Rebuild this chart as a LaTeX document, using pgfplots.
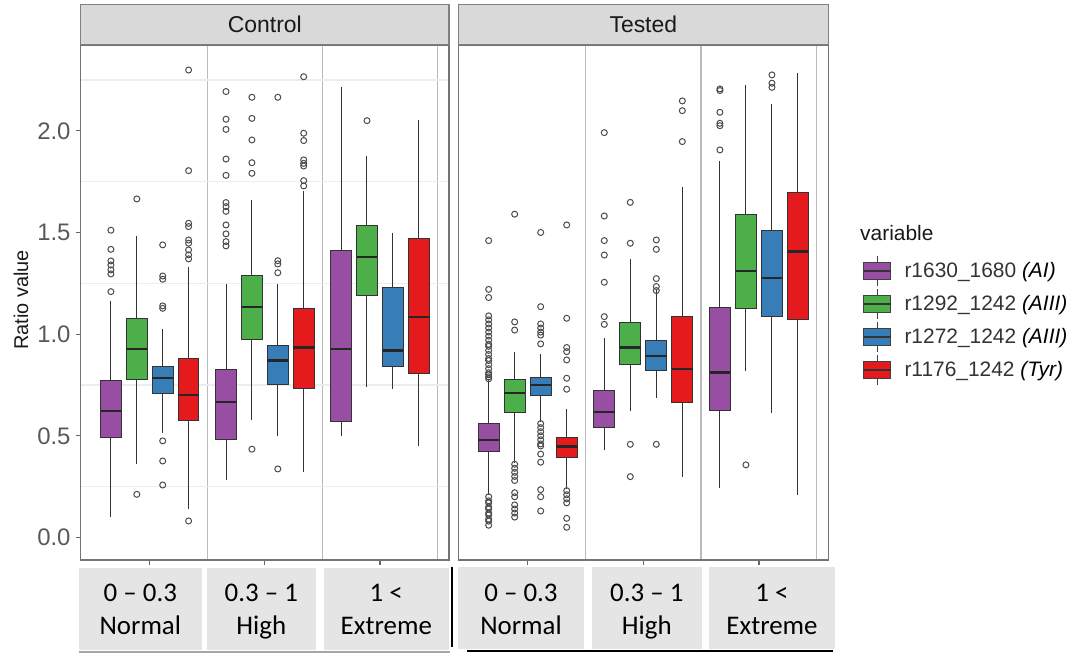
\documentclass[border=0pt]{standalone}
\usepackage{pgfplots}
\pgfplotsset{compat=1.18}
\usepgfplotslibrary{statistics}
\usepackage{fontspec}
\setmainfont{Liberation Sans}
\newfontfamily\carlito{Carlito}

\definecolor{cP}{HTML}{984EA3}
\definecolor{cG}{HTML}{4DAF4A}
\definecolor{cB}{HTML}{377EB8}
\definecolor{cR}{HTML}{E41A1C}
\definecolor{stripfill}{HTML}{D9D9D9}
\definecolor{labfill}{HTML}{E5E5E5}

\pgfplotsset{
  panel/.style={
    scale only axis, height=515bp,
    xmin=0.4, xmax=3.6, ymin=-0.111, ymax=2.422,
    clip=false,
    axis line style={draw=black!55, line width=1.3bp},
    xtick={1,2,3}, xticklabels={},
    minor xtick={1.5,2.5,3.5},
    minor ytick={0.25,0.75,1.25,1.75,2.25},
    xminorgrids, yminorgrids,
    minor x grid style={draw=black!27, line width=1.4bp},
    minor y grid style={draw=black!7, line width=1.5bp},
    minor tick length=0pt, major tick length=5bp,
    tick align=outside, tick pos=left,
    major tick style={draw=black!60, line width=1.2bp},
    title style={at={(0.5,1)}, anchor=south, yshift=-6pt, fill=stripfill, draw=black!50,
      line width=1.3bp, minimum height=40bp, inner sep=0pt,
      font=\fontsize{23}{27}\selectfont, text=black!90},
  },
  bx/.style={forget plot, draw=black!80, line width=1bp, solid,
    boxplot/draw direction=y,
    boxplot/every median/.style={line width=2.2bp, draw=black!85}},
  outl/.style={forget plot, only marks, mark=o, mark size=3bp,
    mark options={draw=black!70, line width=1bp}},
  boxkey/.style={legend image code/.code={
      \draw[black!75, line width=1bp] (13.5bp,-15bp) -- (13.5bp,15bp);
      \draw[fill=#1, draw=black!75, line width=1bp] (0bp,-8.5bp) rectangle (27bp,8.5bp);
      \draw[black!80, line width=1.6bp] (0bp,0bp) -- (27bp,0bp);
  }},
}

% one box: colour, position, lower whisker, lower quartile, median, upper quartile, upper whisker
\newcommand\bxp[7]{%
  \addplot[bx, fill=#1, boxplot prepared={draw position=#2, box extend=0.18,
    whisker extend=0, lower whisker=#3, lower quartile=#4, median=#5,
    upper quartile=#6, upper whisker=#7}] coordinates {};}

\begin{document}
\begin{tikzpicture}
\useasboundingbox (0bp,0bp) rectangle (1083bp,-654bp);

% ---------------- Control ----------------
\begin{axis}[panel, at={(80.7bp,-560bp)}, anchor=south west, width=368.3bp,
  title={Control},
  title style={minimum width=368.3bp},
  ytick={0,0.5,1,1.5,2},
  /pgf/number format/assume math mode=true,
  yticklabel style={/pgf/number format/fixed, /pgf/number format/fixed zerofill,
    /pgf/number format/precision=1, font=\fontsize{24}{28}\selectfont,
    text=black!65, inner sep=0pt, xshift=-5bp},
  ylabel={Ratio value},
  ylabel style={at={(axis description cs:-0.162,0.505)}, anchor=center,
    font=\fontsize{20}{24}\selectfont, text=black!90},
]
% 0 - 0.3 Normal
\bxp{cP}{0.6625}{0.099}{0.494}{0.622}{0.771}{1.165}
\bxp{cG}{0.8875}{0.360}{0.778}{0.927}{1.078}{1.483}
\bxp{cB}{1.1125}{0.512}{0.706}{0.783}{0.843}{1.027}
\bxp{cR}{1.3375}{0.142}{0.576}{0.701}{0.878}{1.332}
\addplot[outl] coordinates {(0.6625,1.209) (0.6625,1.296) (0.6625,1.316) (0.6625,1.340)
  (0.6625,1.360) (0.6625,1.417) (0.6625,1.511)};
\addplot[outl] coordinates {(0.8875,1.665) (0.8875,0.212)};
\addplot[outl] coordinates {(1.1125,1.439) (1.1125,1.286) (1.1125,1.270) (1.1125,1.139)
  (1.1125,1.127) (1.1125,0.475) (1.1125,0.376) (1.1125,0.258)};
\addplot[outl] coordinates {(1.3375,2.299) (1.3375,1.804) (1.3375,1.545) (1.3375,1.529)
  (1.3375,1.463) (1.3375,1.447) (1.3375,1.414) (1.3375,1.390) (1.3375,1.370) (1.3375,0.081)};
% 0.3 - 1 High
\bxp{cP}{1.6625}{0.283}{0.480}{0.668}{0.827}{1.245}
\bxp{cG}{1.8875}{0.578}{0.975}{1.132}{1.286}{1.660}
\bxp{cB}{2.1125}{0.499}{0.750}{0.870}{0.943}{1.245}
\bxp{cR}{2.3375}{0.324}{0.734}{0.934}{1.125}{1.706}
\addplot[outl] coordinates {(1.6625,2.193) (1.6625,2.057) (1.6625,2.007) (1.6625,1.861)
  (1.6625,1.781) (1.6625,1.647) (1.6625,1.627) (1.6625,1.604) (1.6625,1.537)
  (1.6625,1.493) (1.6625,1.455) (1.6625,1.434)};
\addplot[outl] coordinates {(1.8875,2.165) (1.8875,2.061) (1.8875,1.955) (1.8875,1.843)
  (1.8875,1.791) (1.8875,0.434)};
\addplot[outl] coordinates {(2.1125,2.165) (2.1125,1.361) (2.1125,1.345) (2.1125,1.302)
  (2.1125,0.337)};
\addplot[outl] coordinates {(2.3375,2.266) (2.3375,1.988) (2.3375,1.952) (2.3375,1.857)
  (2.3375,1.840) (2.3375,1.827) (2.3375,1.755) (2.3375,1.729)};
% 1 < Extreme
\bxp{cP}{2.6625}{0.499}{0.570}{0.927}{1.409}{2.217}
\bxp{cG}{2.8875}{0.739}{1.189}{1.378}{1.534}{1.876}
\bxp{cB}{3.1125}{0.730}{0.843}{0.919}{1.227}{1.499}
\bxp{cR}{3.3375}{0.450}{0.807}{1.086}{1.468}{2.052}
\addplot[outl] coordinates {(2.8875,2.050)};
\end{axis}

% ---------------- Tested ----------------
\begin{axis}[panel, at={(458.3bp,-560bp)}, anchor=south west, width=370bp,
  title={Tested},
  title style={minimum width=370bp},
  ytick=\empty,
  legend style={at={(axis description cs:1.093,0.592)}, anchor=north west,
    draw=none, fill=none, inner sep=0pt, row sep=2bp, column sep=13bp,
    font=\fontsize{21}{25}\selectfont, text=black!80,
    nodes={inner sep=0pt}},
  legend cell align=left,
]
\addlegendimage{boxkey=cP}
\addlegendentry{r1630\_1680 {\itshape\color{black}(AI)}}
\addlegendimage{boxkey=cG}
\addlegendentry{r1292\_1242 {\itshape\color{black}(AIII)}}
\addlegendimage{boxkey=cB}
\addlegendentry{r1272\_1242 {\itshape\color{black}(AIII)}}
\addlegendimage{boxkey=cR}
\addlegendentry{r1176\_1242 {\itshape\color{black}(Tyr)}}
% 0 - 0.3 Normal
\bxp{cP}{0.6625}{0.209}{0.422}{0.480}{0.561}{0.775}
\bxp{cG}{0.8875}{0.365}{0.614}{0.709}{0.778}{0.914}
\bxp{cB}{1.1125}{0.570}{0.698}{0.750}{0.786}{0.902}
\bxp{cR}{1.3375}{0.237}{0.394}{0.447}{0.493}{0.630}
\addplot[outl] coordinates {(0.6625,0.78) (0.6625,0.79) (0.6625,0.80) (0.6625,0.81)
  (0.6625,0.83) (0.6625,0.85) (0.6625,0.87) (0.6625,0.88) (0.6625,0.90) (0.6625,0.92)
  (0.6625,0.94) (0.6625,0.95) (0.6625,0.97) (0.6625,0.99) (0.6625,1.01) (0.6625,1.03)
  (0.6625,1.05) (0.6625,1.07) (0.6625,1.09) (0.6625,1.18) (0.6625,1.22) (0.6625,1.46)
  (0.6625,0.20) (0.6625,0.18) (0.6625,0.17) (0.6625,0.15) (0.6625,0.14) (0.6625,0.12)
  (0.6625,0.11) (0.6625,0.09) (0.6625,0.08) (0.6625,0.06)};
\addplot[outl] coordinates {(0.8875,1.59) (0.8875,1.06) (0.8875,1.02) (0.8875,0.36)
  (0.8875,0.34) (0.8875,0.32) (0.8875,0.30) (0.8875,0.28) (0.8875,0.22) (0.8875,0.20)
  (0.8875,0.16) (0.8875,0.14) (0.8875,0.12) (0.8875,0.10)};
\addplot[outl] coordinates {(1.1125,1.50) (1.1125,1.135) (1.1125,1.05) (1.1125,1.03)
  (1.1125,1.01) (1.1125,0.995) (1.1125,0.952) (1.1125,0.56) (1.1125,0.54) (1.1125,0.52)
  (1.1125,0.50) (1.1125,0.48) (1.1125,0.46) (1.1125,0.45) (1.1125,0.41) (1.1125,0.37)
  (1.1125,0.235) (1.1125,0.20) (1.1125,0.13)};
\addplot[outl] coordinates {(1.3375,1.537) (1.3375,1.078) (1.3375,0.934) (1.3375,0.914)
  (1.3375,0.873) (1.3375,0.783) (1.3375,0.729) (1.3375,0.23) (1.3375,0.21) (1.3375,0.19)
  (1.3375,0.17) (1.3375,0.094) (1.3375,0.05)};
% 0.3 - 1 High
\bxp{cP}{1.6625}{0.430}{0.542}{0.616}{0.725}{0.980}
\bxp{cG}{1.8875}{0.624}{0.852}{0.934}{1.057}{1.368}
\bxp{cB}{2.1125}{0.688}{0.820}{0.893}{0.971}{1.217}
\bxp{cR}{2.3375}{0.299}{0.665}{0.827}{1.086}{1.725}
\addplot[outl] coordinates {(1.6625,1.991) (1.6625,1.581) (1.6625,1.460) (1.6625,1.389)
  (1.6625,1.255) (1.6625,1.086) (1.6625,1.048)};
\addplot[outl] coordinates {(1.8875,1.648) (1.8875,1.447) (1.8875,0.458) (1.8875,0.299)};
\addplot[outl] coordinates {(2.1125,1.463) (2.1125,1.417) (2.1125,1.273) (2.1125,1.234)
  (2.1125,1.214) (2.1125,0.458)};
\addplot[outl] coordinates {(2.3375,2.147) (2.3375,2.099) (2.3375,1.947)};
% 1 < Extreme
\bxp{cP}{2.6625}{0.242}{0.624}{0.811}{1.132}{1.852}
\bxp{cG}{2.8875}{0.820}{1.124}{1.312}{1.589}{2.225}
\bxp{cB}{3.1125}{0.611}{1.089}{1.275}{1.512}{2.132}
\bxp{cR}{3.3375}{0.209}{1.070}{1.406}{1.698}{2.283}
\addplot[outl] coordinates {(2.6625,2.206) (2.6625,2.198) (2.6625,2.091) (2.6625,2.037)
  (2.6625,2.025) (2.6625,1.906)};
\addplot[outl] coordinates {(2.8875,0.357)};
\addplot[outl] coordinates {(3.1125,2.275) (3.1125,2.234) (3.1125,2.214)};
\end{axis}

% legend title
\node[anchor=west, font=\fontsize{21}{25}\selectfont, text=black!90, inner sep=0pt]
  at (860bp,-233bp) {variable};

% category boxes under the panels
\fill[labfill] (79bp,-568bp) rectangle (201.7bp,-650bp);
\fill[labfill] (206.7bp,-568bp) rectangle (316bp,-650bp);
\fill[labfill] (323.7bp,-568bp) rectangle (449bp,-650bp);
\fill[labfill] (458bp,-567bp) rectangle (584bp,-648.5bp);
\fill[labfill] (592bp,-567bp) rectangle (701.7bp,-648.5bp);
\fill[labfill] (709bp,-567bp) rectangle (835bp,-648.5bp);
\begin{scope}[every node/.style={anchor=base, inner sep=0pt,
    font=\carlito\fontsize{27}{32}\selectfont, text=black}]
  \node at (140.3bp,-601.7bp) {0 – 0.3};
  \node at (140.3bp,-634bp) {Normal};
  \node at (261.3bp,-601.7bp) {0.3 – 1};
  \node at (261.3bp,-634bp) {High};
  \node at (386.3bp,-601.7bp) {1 <};
  \node at (386.3bp,-634bp) {Extreme};
  \node at (521bp,-601.7bp) {0 – 0.3};
  \node at (521bp,-634bp) {Normal};
  \node at (646.8bp,-601.7bp) {0.3 – 1};
  \node at (646.8bp,-634bp) {High};
  \node at (772bp,-601.7bp) {1 <};
  \node at (772bp,-634bp) {Extreme};
\end{scope}
\draw[black!35, line width=1.2bp] (79bp,-652bp) -- (450bp,-652bp);
\draw[black, line width=2bp] (467bp,-650.7bp) -- (833bp,-650.7bp);
\draw[black, line width=2bp] (451.7bp,-567bp) -- (451.7bp,-647bp);
\end{tikzpicture}
\end{document}
